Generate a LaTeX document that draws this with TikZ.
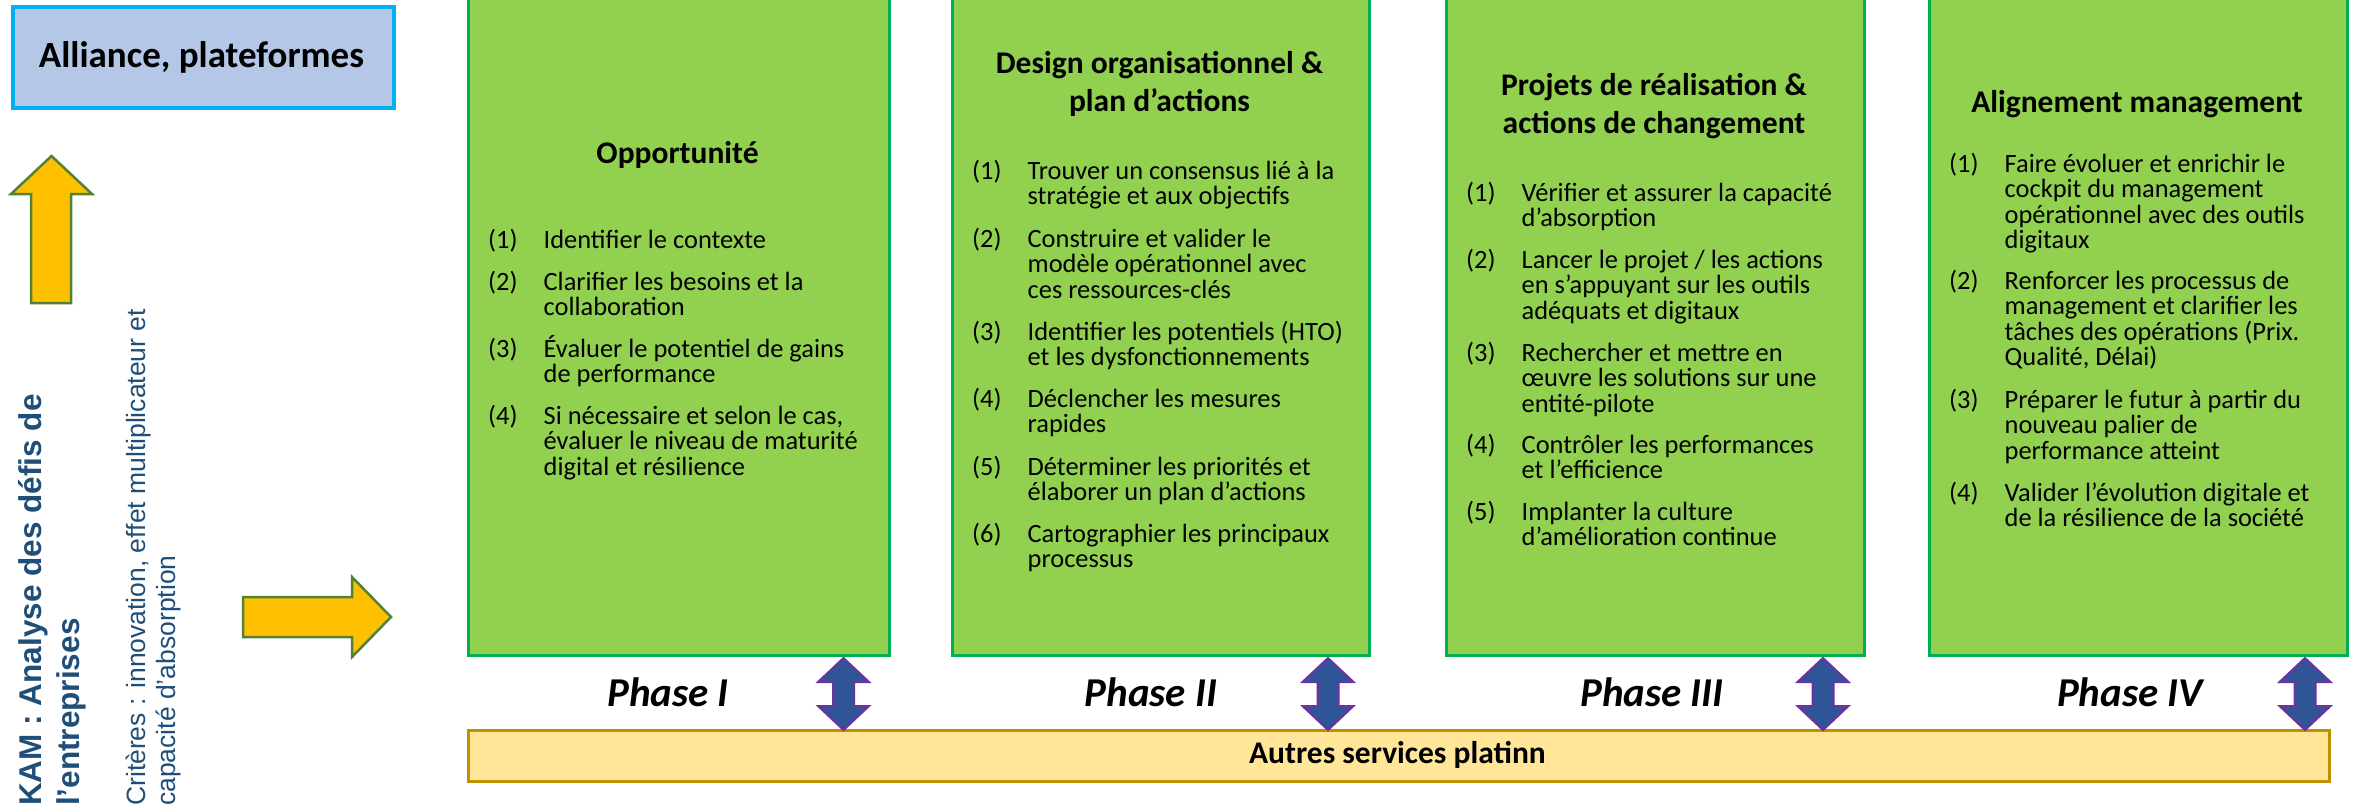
\documentclass[tikz,border=0pt]{standalone}
\usepackage{fontspec}
\setmainfont{Carlito}
\newfontfamily\arialf{Liberation Sans}
\definecolor{boxgreen}{HTML}{92D050}
\definecolor{boxborder}{HTML}{00B050}
\definecolor{alfill}{HTML}{B4C7E7}
\definecolor{alborder}{HTML}{00B0F0}
\definecolor{arrfill}{HTML}{FFC000}
\definecolor{arrborder}{HTML}{548235}
\definecolor{dblfill}{HTML}{2F5597}
\definecolor{dblborder}{HTML}{7030A0}
\definecolor{barfill}{HTML}{FFE699}
\definecolor{barborder}{HTML}{BF9000}
\definecolor{kamblue}{HTML}{1F4E79}
\newcommand\itm[2]{\makebox[55.5pt][l]{(#1)}\vtop{\baselineskip=25.5pt\lineskiplimit=-30pt\lineskip=0pt\halign{##\hfil\cr#2\crcr}}}
\newcommand\ctitle[1]{\vtop{\baselineskip=38pt\lineskiplimit=-30pt\lineskip=0pt\halign{\hfil##\hfil\cr#1\crcr}}}
\newcommand\ltxt[2]{\vtop{\baselineskip=#1\lineskiplimit=-30pt\lineskip=0pt\halign{##\hfil\cr#2\crcr}}}
\newcommand\dblarrow[1]{\draw[dblarr] (#1,658) -- ({#1+25.5},682) -- ({#1+10.5},682) -- ({#1+10.5},706) -- ({#1+25.5},706) -- (#1,730) -- ({#1-25.5},706) -- ({#1-10.5},706) -- ({#1-10.5},682) -- ({#1-25.5},682) -- cycle;}
\tikzset{
  phasebox/.style={fill=boxgreen, draw=boxborder, line width=3pt, inner sep=0, anchor=south west, minimum height=700pt},
  ttl/.style={font=\fontsize{31.5}{38}\selectfont\bfseries, inner sep=0, anchor=base},
  itemtext/.style={font=\fontsize{26.4}{25.5}\selectfont, inner sep=0, anchor=base west},
  phaselbl/.style={font=\fontsize{41}{49}\selectfont\bfseries\itshape, inner sep=0, anchor=base},
  dblarr/.style={fill=dblfill, draw=dblborder, line width=2pt, line join=miter},
  yarr/.style={fill=arrfill, draw=arrborder, line width=2.5pt},
  barbox/.style={fill=barfill, draw=barborder, line width=2.5pt, inner sep=0, anchor=north west},
  vtext/.style={rotate=90, anchor=base west, inner sep=0, text=kamblue}
}
\begin{document}
\begin{tikzpicture}[x=1pt,y=-1pt]
\useasboundingbox (0,0) rectangle (2361,806);
% left column
\node[draw=alborder, fill=alfill, line width=3.5pt, minimum width=381pt, minimum height=101pt, inner sep=0, anchor=north west] (alliance) at (11,5) {};
\node[font=\fontsize{37}{44}\selectfont\bfseries, inner sep=0, anchor=base] (alltxt) at (201.5,67) {Alliance, plateformes};
\draw[yarr] (51.5,156) -- (92,194) -- (71,194) -- (71,303) -- (31,303) -- (31,194) -- (11,194) -- cycle;
\draw[yarr] (243,597) -- (352,597) -- (352,577) -- (391,617) -- (352,657) -- (352,637) -- (243,637) -- cycle;
\node[vtext, font=\arialf\bfseries\fontsize{31.5}{38}\selectfont] (kam) at (41,806) {\ltxt{38pt}{KAM : Analyse des défis de\cr l’entreprises}};
\node[vtext, font=\arialf\fontsize{26.5}{30}\selectfont] (crit) at (145,806) {\ltxt{30pt}{Critères : innovation, effet multiplicateur et\cr capacité d’absorption}};
% bottom bar
\node[barbox, minimum width=1861pt, minimum height=51pt] (bar) at (467,729) {};
\node[font=\fontsize{31.5}{38}\selectfont\bfseries, inner sep=0, anchor=base] (bartxt) at (1397.5,763) {Autres services platinn};
% phase 1
\node[phasebox, minimum width=421pt] (p1) at (467,657) {};
\node[ttl] (t1) at (677.5,163) {Opportunité};
\node[itemtext] (p1a) at (488,248) {\itm{1}{Identifier le contexte}};
\node[itemtext] (p1b) at (488,290) {\itm{2}{Clarifier les besoins et la\cr collaboration}};
\node[itemtext] (p1c) at (488,357) {\itm{3}{Évaluer le potentiel de gains\cr de performance}};
\node[itemtext] (p1d) at (488,424) {\itm{4}{Si nécessaire et selon le cas,\cr évaluer le niveau de maturité\cr digital et résilience}};
% phase 2
\node[phasebox, minimum width=417pt] (p2) at (951,657) {};
\node[ttl] (t2) at (1159.5,73) {\ctitle{Design organisationnel \&\cr plan d’actions}};
\node[itemtext] (p2a) at (972,179) {\itm{1}{Trouver un consensus lié à la\cr stratégie et aux objectifs}};
\node[itemtext] (p2b) at (972,247) {\itm{2}{Construire et valider le\cr modèle opérationnel avec\cr ces ressources-clés}};
\node[itemtext] (p2c) at (972,340) {\itm{3}{Identifier les potentiels (HTO)\cr et les dysfonctionnements}};
\node[itemtext] (p2d) at (972,407) {\itm{4}{Déclencher les mesures\cr rapides}};
\node[itemtext] (p2e) at (972,475) {\itm{5}{Déterminer les priorités et\cr élaborer un plan d’actions}};
\node[itemtext] (p2f) at (972,542) {\itm{6}{Cartographier les principaux\cr processus}};
% phase 3
\node[phasebox, minimum width=418pt] (p3) at (1445,657) {};
\node[ttl] (t3) at (1654,95) {\ctitle{Projets de réalisation \&\cr actions de changement}};
\node[itemtext] (p3a) at (1466,201) {\itm{1}{Vérifier et assurer la capacité\cr d’absorption}};
\node[itemtext] (p3b) at (1466,268) {\itm{2}{Lancer le projet / les actions\cr en s’appuyant sur les outils\cr adéquats et digitaux}};
\node[itemtext] (p3c) at (1466,361) {\itm{3}{Rechercher et mettre en\cr œuvre les solutions sur une\cr entité-pilote}};
\node[itemtext] (p3d) at (1466,453) {\itm{4}{Contrôler les performances\cr et l’efficience}};
\node[itemtext] (p3e) at (1466,520) {\itm{5}{Implanter la culture\cr d’amélioration continue}};
% phase 4
\node[phasebox, minimum width=418pt] (p4) at (1928,657) {};
\node[ttl] (t4) at (2137,112) {Alignement management};
\node[itemtext] (p4a) at (1949,172) {\itm{1}{Faire évoluer et enrichir le\cr cockpit du management\cr opérationnel avec des outils\cr digitaux}};
\node[itemtext] (p4b) at (1949,289) {\itm{2}{Renforcer les processus de\cr management et clarifier les\cr tâches des opérations (Prix.\cr Qualité, Délai)}};
\node[itemtext] (p4c) at (1949,408) {\itm{3}{Préparer le futur à partir du\cr nouveau palier de\cr performance atteint}};
\node[itemtext] (p4d) at (1949,501) {\itm{4}{Valider l’évolution digitale et\cr de la résilience de la société}};
% phase labels
\node[phaselbl] (ph1) at (668,706) {Phase I};
\node[phaselbl] (ph2) at (1151,706) {Phase II};
\node[phaselbl] (ph3) at (1652,706) {Phase III};
\node[phaselbl] (ph4) at (2130,706) {Phase IV};
% double arrows between boxes and bar
\dblarrow{843.5}
\dblarrow{1328}
\dblarrow{1823}
\dblarrow{2305}
\end{tikzpicture}
\end{document}
